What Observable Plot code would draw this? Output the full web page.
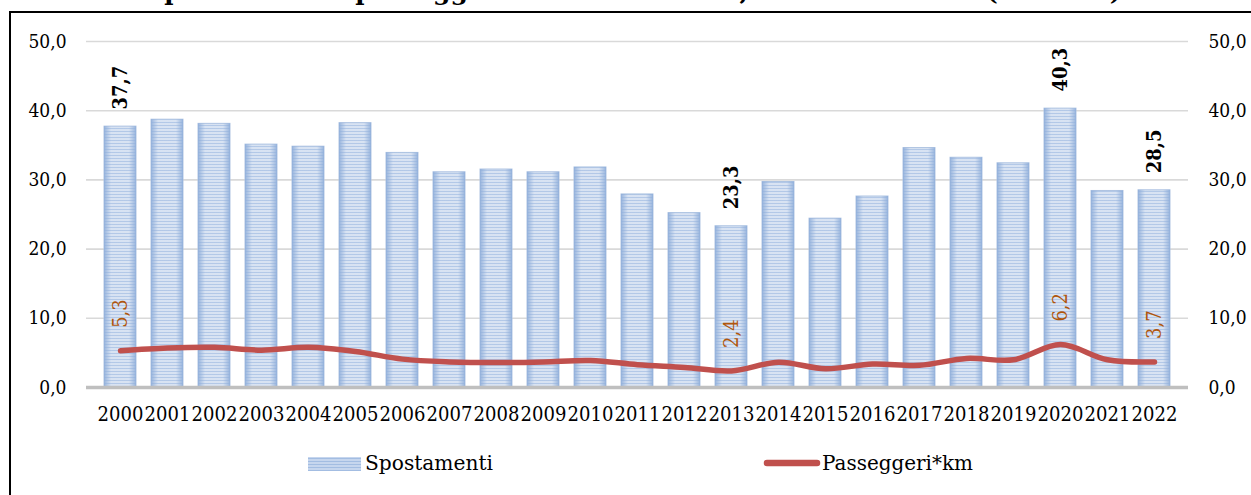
<!DOCTYPE html>
<html>
<head>
<meta charset="utf-8">
<script src="https://cdn.jsdelivr.net/npm/d3@7"></script>
<script src="https://cdn.jsdelivr.net/npm/@observablehq/plot@0.6"></script>
<style>
  html, body { margin: 0; padding: 0; background: #fff; overflow: hidden; }
  #wrap { position: relative; width: 1251px; height: 495px; overflow: hidden; }
  #frame { position: absolute; left: 8.5px; top: 11px; width: 1400px; height: 700px; border: 2px solid #000; box-sizing: border-box; }
  #chart { position: absolute; left: 0; top: 0; }
  .overlay { position: absolute; left: 0; top: 0; pointer-events: none; }
</style>
</head>
<body>
<div id="wrap">
  <div id="frame"></div>
  <div id="chart"></div>
  <svg class="overlay" width="1251" height="12" id="title"></svg>
  <svg class="overlay" width="1251" height="495" id="legend"></svg>
</div>
<script>
// ---- data ----
const years = ["2000","2001","2002","2003","2004","2005","2006","2007","2008","2009","2010","2011","2012","2013","2014","2015","2016","2017","2018","2019","2020","2021","2022"];
const spostamenti = [37.7,38.7,38.1,35.1,34.8,38.2,33.9,31.1,31.5,31.1,31.8,27.9,25.2,23.3,29.7,24.4,27.6,34.6,33.2,32.4,40.3,28.4,28.5];
const passeggeriKm = [5.3,5.7,5.8,5.4,5.8,5.2,4.1,3.7,3.6,3.7,3.9,3.3,2.9,2.4,3.65,2.7,3.4,3.2,4.2,4.0,6.2,4.0,3.7];
const labelYears = ["2000","2013","2020","2022"];
const yTicks = [0,10,20,30,40,50];
const gridTicks = [10,20,30,40,50];
const seriesNames = ["Spostamenti","Passeggeri*km"];
const titleText = "Trend spostamenti e passeggeri*km nel Comune, anni 2000-2022 (valori %)";

const data = years.map((y, i) => ({year: y, sp: spostamenti[i], pk: passeggeriKm[i]}));
const labeled = data.filter(d => labelYears.includes(d.year));
const fmt = d => d.toFixed(1).replace(".", ",");
const serif = "'DejaVu Serif Condensed', 'DejaVu Serif', serif";

const chart = Plot.plot({
  width: 1251,
  height: 495,
  marginLeft: 86,
  marginRight: 63,
  marginTop: 41,
  marginBottom: 108,
  style: {fontFamily: serif, fontSize: "19px", color: "#000", background: "transparent"},
  x: {domain: years, paddingInner: 0.32, paddingOuter: 0.16, label: null},
  y: {domain: [0, 50], label: null},
  marks: [
    Plot.gridY(gridTicks, {stroke: "#D9D9D9", strokeOpacity: 1, strokeWidth: 1.6}),
    Plot.barY(data, {x: "year", y: "sp", fill: "url(#stripes)", stroke: "#AFC4E2", strokeWidth: 1}),
    Plot.barY(data, {x: "year", y: "sp", fill: "url(#edge)"}),
    Plot.ruleY([0], {stroke: "#BFBFBF", strokeWidth: 3.5}),
    Plot.line(data, {x: "year", y: "pk", stroke: "#C0504D", strokeWidth: 5.5, curve: "catmull-rom", strokeLinecap: "round"}),
    Plot.text(labeled, {x: "year", y: "sp", text: d => fmt(d.sp), rotate: -90, textAnchor: "start", dy: -17, fontWeight: "bold", fontSize: 20, fill: "#000"}),
    Plot.text(labeled, {x: "year", y: "pk", text: d => fmt(d.pk), rotate: -90, textAnchor: "start", dy: -23, fontSize: 20, fill: "#B0560C"}),
    Plot.axisY(yTicks, {anchor: "left", tickSize: 0, tickPadding: 20, tickFormat: fmt, fontSize: 19}),
    Plot.axisY(yTicks, {anchor: "right", tickSize: 0, tickPadding: 20, tickFormat: fmt, fontSize: 19, textAnchor: "start"}),
    Plot.axisX({tickSize: 0, tickPadding: 19, fontSize: 20})
  ]
});

// patterns for Excel-like striped bars
const ns = "http://www.w3.org/2000/svg";
const defs = document.createElementNS(ns, "defs");
defs.innerHTML = `
  <pattern id="stripes" patternUnits="userSpaceOnUse" width="4" height="3">
    <rect width="4" height="3" fill="#E2EAF6"/>
    <rect y="2" width="4" height="1" fill="#B8CCE9"/>
  </pattern>
  <linearGradient id="edge" x1="0" x2="1" y1="0" y2="0">
    <stop offset="0" stop-color="#8FAEDA" stop-opacity="0.9"/>
    <stop offset="0.22" stop-color="#8FAEDA" stop-opacity="0.12"/>
    <stop offset="0.78" stop-color="#8FAEDA" stop-opacity="0.12"/>
    <stop offset="1" stop-color="#8FAEDA" stop-opacity="0.9"/>
  </linearGradient>`;
chart.insertBefore(defs, chart.firstChild);
document.getElementById("chart").appendChild(chart);

// Title (clipped at the top of the page, as in the reference)
const title = d3.select("#title");
title.append("text")
  .attr("x", 60).attr("y", 0)
  .attr("font-family", "'DejaVu Serif', serif")
  .attr("font-weight", "bold")
  .attr("font-size", 25)
  .text(titleText);

// Legend
const lg = d3.select("#legend");
const ldefs = lg.append("defs");
ldefs.html(`<pattern id="stripesL" patternUnits="userSpaceOnUse" width="4" height="3">
    <rect width="4" height="3" fill="#C6D6EE"/><rect y="2" width="4" height="1" fill="#A3BDE2"/></pattern>`);
lg.append("rect").attr("x", 308).attr("y", 457).attr("width", 53).attr("height", 14)
  .attr("fill", "url(#stripesL)");
lg.append("text").attr("x", 365).attr("y", 470)
  .attr("font-family", "'DejaVu Serif', serif").attr("font-size", 20)
  .attr("textLength", 128).attr("lengthAdjust", "spacingAndGlyphs")
  .text(seriesNames[0]);
lg.append("line").attr("x1", 767).attr("x2", 817).attr("y1", 463).attr("y2", 463)
  .attr("stroke", "#C0504D").attr("stroke-width", 6.5).attr("stroke-linecap", "round");
lg.append("text").attr("x", 822).attr("y", 470)
  .attr("font-family", "'DejaVu Serif', serif").attr("font-size", 20)
  .attr("textLength", 151).attr("lengthAdjust", "spacingAndGlyphs")
  .text(seriesNames[1]);
</script>
</body>
</html>
